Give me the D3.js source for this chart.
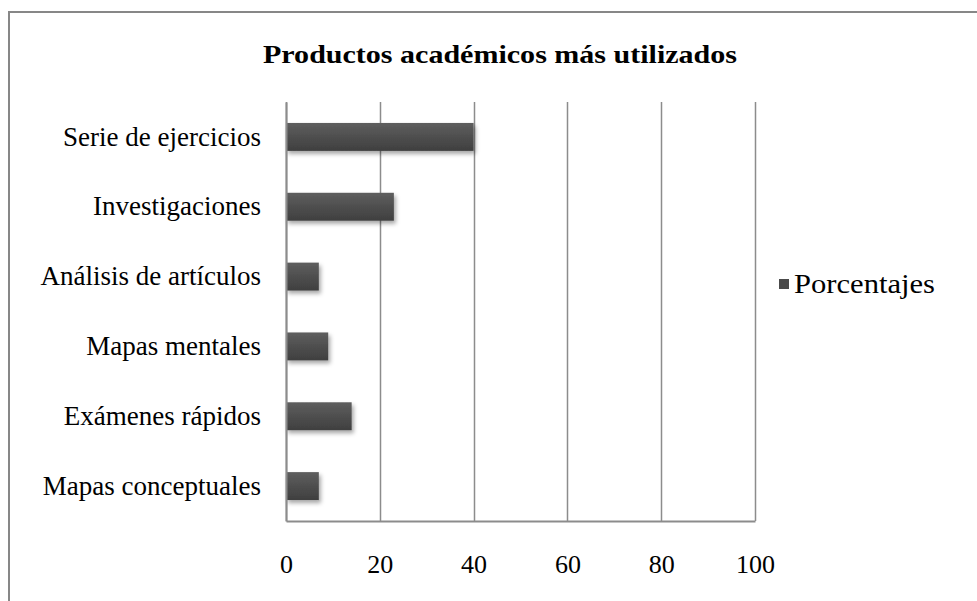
<!DOCTYPE html>
<html>
<head>
<meta charset="utf-8">
<script src="https://cdn.jsdelivr.net/npm/d3@7"></script>
<style>
  body { margin: 0; background: #fff; }
  text { font-family: "Liberation Serif", "Times New Roman", serif; fill: #000; }
</style>
</head>
<body>
<svg width="977" height="601"></svg>
<script>
var categories = ['Serie de ejercicios', 'Investigaciones', 'Análisis de artículos', 'Mapas mentales', 'Exámenes rápidos', 'Mapas conceptuales'];
var porcentajes = [40, 23, 7, 9, 14, 7];
var xTicks = [0, 20, 40, 60, 80, 100];
var seriesName = 'Porcentajes';
var chartTitle = 'Productos académicos más utilizados';

var svg = d3.select('svg');
var margin = {left: 286, right: 222, top: 102, bottom: 80};
var width = 977 - margin.left - margin.right;
var height = 601 - margin.top - margin.bottom;

var defs = svg.append('defs');
var grad = defs.append('linearGradient').attr('id', 'barGrad')
  .attr('x1', 0).attr('y1', 0).attr('x2', 0).attr('y2', 1);
grad.append('stop').attr('offset', '0%').attr('stop-color', '#5e5e5e');
grad.append('stop').attr('offset', '100%').attr('stop-color', '#3f3f3f');
var shadow = defs.append('filter').attr('id', 'shadow')
  .attr('x', '-10%').attr('y', '-20%').attr('width', '130%').attr('height', '160%');
shadow.append('feDropShadow').attr('dx', 2).attr('dy', 3).attr('stdDeviation', 2)
  .attr('flood-color', '#000').attr('flood-opacity', 0.35);

// chart border
svg.append('rect').attr('x', 9).attr('y', 12).attr('width', 990).attr('height', 620)
  .attr('fill', 'none').attr('stroke', '#878787').attr('stroke-width', 2);

svg.append('text')
  .attr('x', 500).attr('y', 63)
  .attr('text-anchor', 'middle')
  .attr('textLength', 474).attr('lengthAdjust', 'spacingAndGlyphs')
  .style('font-size', '26px').style('font-weight', 'bold')
  .text(chartTitle);

var g = svg.append('g').attr('transform', 'translate(' + margin.left + ',' + margin.top + ')');

var x = d3.scaleLinear().domain([0, 100]).range([0, width]);
var y = d3.scaleBand().domain(categories).range([0, height]).paddingInner(0.6).paddingOuter(0.3);

// gridlines
g.selectAll('.grid').data(xTicks).enter().append('line')
  .attr('class', 'grid')
  .attr('x1', function(d) { return Math.round(x(d)) + 0.5; })
  .attr('x2', function(d) { return Math.round(x(d)) + 0.5; })
  .attr('y1', 0).attr('y2', height)
  .attr('stroke', '#8c8c8c').attr('stroke-width', 1.5);

var xAxis = g.append('g').attr('transform', 'translate(0,' + height + ')')
  .call(d3.axisBottom(x).tickValues(xTicks).tickSize(0).tickPadding(34));
xAxis.select('.domain').attr('stroke', '#8c8c8c').attr('stroke-width', 2);
xAxis.selectAll('text').style('font-size', '26px')
  .style('font-family', '"Liberation Serif", serif');

g.selectAll('.bar').data(porcentajes).enter().append('rect')
  .attr('class', 'bar')
  .attr('x', x(0))
  .attr('y', function(d, i) { return y(categories[i]); })
  .attr('width', function(d) { return x(d) - x(0); })
  .attr('height', y.bandwidth())
  .attr('fill', 'url(#barGrad)')
  .attr('filter', 'url(#shadow)');

var yAxis = g.append('g')
  .call(d3.axisLeft(y).tickSize(0).tickPadding(25));
yAxis.select('.domain').attr('stroke', '#8c8c8c').attr('stroke-width', 2);
yAxis.selectAll('text').style('font-size', '27px')
  .style('font-family', '"Liberation Serif", serif');

// legend
var legend = svg.append('g').attr('transform', 'translate(779,279)');
legend.append('rect').attr('width', 10).attr('height', 10).attr('fill', '#4a4a4a');
legend.append('text').attr('x', 15).attr('y', 5).attr('dy', '0.35em')
  .attr('textLength', 141).attr('lengthAdjust', 'spacingAndGlyphs')
  .style('font-size', '27px').text(seriesName);
</script>
</body>
</html>
